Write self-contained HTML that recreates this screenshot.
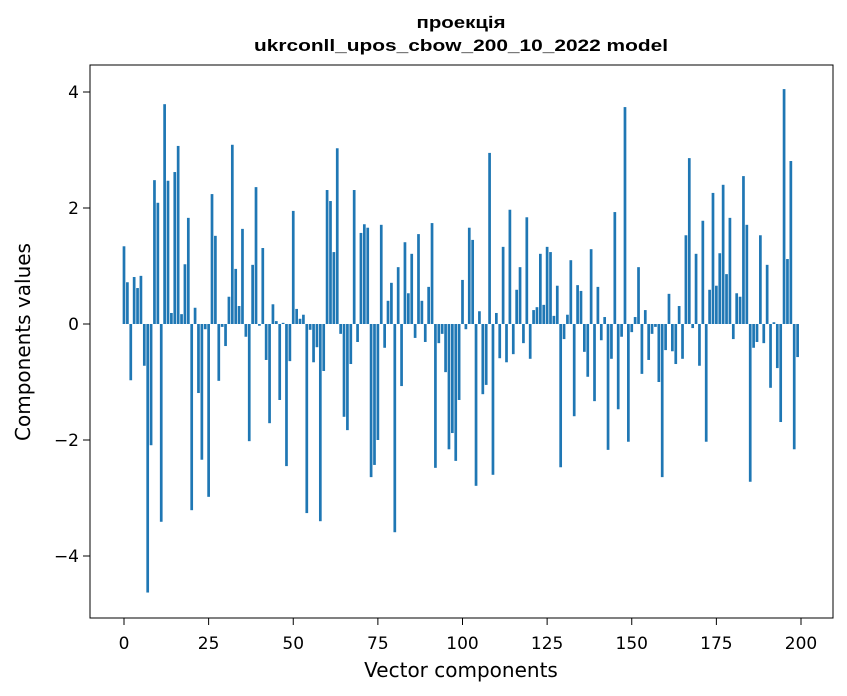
<!DOCTYPE html>
<html><head><meta charset="utf-8"><style>
body{margin:0;background:#fff;}
svg{display:block;font-family:"DejaVu Sans","Liberation Sans",sans-serif;}
</style></head><body>
<svg id="chart" width="847" height="696" xmlns="http://www.w3.org/2000/svg">
<rect width="847" height="696" fill="#fff"/>
<text x="461" y="28" text-anchor="middle" font-size="17" font-weight="bold" font-family="Liberation Sans, sans-serif" textLength="89" lengthAdjust="spacingAndGlyphs">проекція</text>
<text x="461" y="51" text-anchor="middle" font-size="17" font-weight="bold" font-family="Liberation Sans, sans-serif" textLength="414" lengthAdjust="spacingAndGlyphs">ukrconll_upos_cbow_200_10_2022 model</text>
<g id="bars"></g>
<g id="xticks"></g>
<g id="yticks"></g>
<rect x="90" y="65" width="743" height="553" fill="none" stroke="#000" stroke-width="1"/>
<text x="461" y="677" text-anchor="middle" font-size="20">Vector components</text>
<text x="0" y="0" transform="translate(30,342) rotate(-90)" text-anchor="middle" font-size="20">Components values</text>
</svg>
<script>
const values = [1.34,0.72,-0.97,0.81,0.62,0.83,-0.72,-4.63,-2.09,2.48,2.09,-3.41,3.79,2.47,0.19,2.62,3.07,0.17,1.03,1.83,
-3.21,0.28,-1.19,-2.34,-0.09,-2.98,2.24,1.52,-0.98,-0.05,-0.38,0.47,3.09,0.95,0.31,1.64,-0.22,-2.02,1.02,2.36,
-0.03,1.31,-0.62,-1.71,0.34,0.05,-1.31,0.02,-2.45,-0.64,1.95,0.26,0.09,0.16,-3.26,-0.10,-0.66,-0.40,-3.40,-0.81,
2.31,2.12,1.24,3.03,-0.17,-1.60,-1.83,-0.69,2.31,-0.31,1.57,1.72,1.66,-2.64,-2.43,-2.00,1.71,-0.41,0.40,0.71,
-3.59,0.98,-1.07,1.41,0.53,1.21,-0.24,1.55,0.40,-0.31,0.64,1.74,-2.48,-0.33,-0.17,-0.83,-2.16,-1.88,-2.36,-1.31,
0.76,-0.09,1.66,1.45,-2.79,0.22,-1.21,-1.05,2.95,-2.60,0.19,-0.59,1.33,-0.66,1.97,-0.52,0.59,0.98,-0.33,1.84,
-0.60,0.24,0.29,1.21,0.33,1.33,1.24,0.14,0.66,-2.47,-0.26,0.16,1.10,-1.59,0.67,0.57,-0.48,-0.91,1.29,-1.33,
0.64,-0.28,0.12,-2.17,-0.60,1.93,-1.47,-0.22,3.74,-2.03,-0.14,0.12,0.98,-0.86,0.24,-0.62,-0.17,-0.05,-1.00,-2.64,
-0.45,0.52,-0.47,-0.69,0.31,-0.60,1.53,2.86,-0.07,1.21,-0.72,1.78,-2.03,0.59,2.26,0.66,1.22,2.40,0.86,1.83,
-0.26,0.53,0.47,2.55,1.71,-2.72,-0.41,-0.31,1.53,-0.33,1.02,-1.10,0.03,-0.76,-1.69,4.05,1.12,2.81,-2.16,-0.57];
const xTickValues = [0,25,50,75,100,125,150,175,200];
const yTickValues = [-4,-2,0,2,4];
const yTickLabels = ["\u22124","\u22122","0","2","4"];

const NS="http://www.w3.org/2000/svg";
function xs(v){return 124+v*3.385;}
function ys(v){return 324-v*58;}
const bars=document.getElementById('bars');
values.forEach((v,i)=>{
  const r=document.createElementNS(NS,'rect');
  const w=0.8*3.385;
  r.setAttribute('x',xs(i)-w/2);
  r.setAttribute('width',w);
  r.setAttribute('y',Math.min(ys(v),ys(0)));
  r.setAttribute('height',Math.abs(ys(v)-ys(0)));
  r.setAttribute('fill','#1f77b4');
  
  
  bars.appendChild(r);
});
const xg=document.getElementById('xticks');
xTickValues.forEach(t=>{
  const l=document.createElementNS(NS,'line');
  l.setAttribute('x1',xs(t));l.setAttribute('x2',xs(t));
  l.setAttribute('y1',618);l.setAttribute('y2',625);
  l.setAttribute('stroke','#000');
  
  
  xg.appendChild(l);
  const tx=document.createElementNS(NS,'text');
  tx.setAttribute('x',xs(t));tx.setAttribute('y',649);
  tx.setAttribute('text-anchor','middle');tx.setAttribute('font-size','17');
  tx.textContent=t;
  
  
  xg.appendChild(tx);
});
const yg=document.getElementById('yticks');
yTickValues.forEach((t,k)=>{
  const l=document.createElementNS(NS,'line');
  l.setAttribute('x1',83);l.setAttribute('x2',90);
  l.setAttribute('y1',ys(t));l.setAttribute('y2',ys(t));
  l.setAttribute('stroke','#000');
  
  
  yg.appendChild(l);
  const tx=document.createElementNS(NS,'text');
  tx.setAttribute('x',79);tx.setAttribute('y',ys(t)+6);
  tx.setAttribute('text-anchor','end');tx.setAttribute('font-size','17');
  tx.textContent=yTickLabels[k];
  
  
  yg.appendChild(tx);
});
</script>
</body></html>
